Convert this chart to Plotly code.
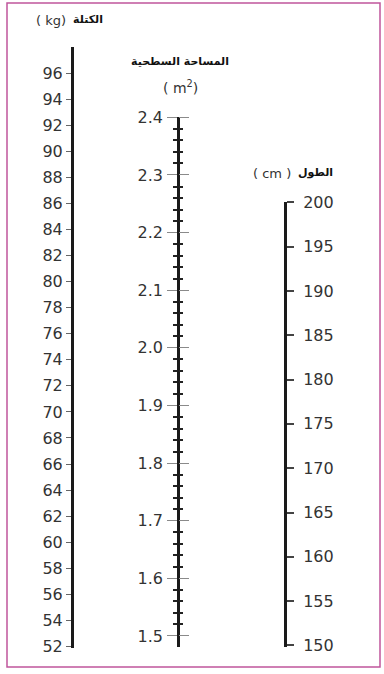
import plotly.graph_objects as go

W, H = 384, 674

# ---- data (scale values / tick labels) ----
mass_ticks = [52, 54, 56, 58, 60, 62, 64, 66, 68, 70, 72, 74, 76, 78, 80, 82, 84, 86, 88, 90, 92, 94, 96]
mass_labels = [str(v) for v in mass_ticks]
mass_range = [51.885, 98.0]

sa_major = [1.5, 1.6, 1.7, 1.8, 1.9, 2.0, 2.1, 2.2, 2.3, 2.4]
sa_labels = ["1.5", "1.6", "1.7", "1.8", "1.9", "2.0", "2.1", "2.2", "2.3", "2.4"]
sa_minor = [round(1.5 + 0.02 * i, 2) for i in range(46) if (i % 5) != 0]
sa_range = [1.4809, 2.4006]

height_ticks = [150, 155, 160, 165, 170, 175, 180, 185, 190, 195, 200]
height_labels = [str(v) for v in height_ticks]
height_range = [149.83, 200.03]

title_mass_unit = "( kg)"
title_mass_ar = "الكتلة"
title_sa_1 = "المساحة السطحية"
title_sa_2 = "( m<sup>2</sup>)"
title_height_unit = "( cm )"
title_height_ar = "الطول"


def py(p):
    """pixel row -> paper fraction"""
    return (H - p) / H


num_font = dict(family="DejaVu Sans, sans-serif", size=16, color="#333")
unit_font = dict(family="DejaVu Sans, sans-serif", size=13, color="#333")
ar_font = dict(family="DejaVu Sans, sans-serif", size=11, color="#111")

fig = go.Figure()
for ya in ["y", "y2", "y3", "y4"]:
    fig.add_trace(go.Scatter(x=[None], y=[None], yaxis=ya, xaxis="x",
                             hoverinfo="skip", showlegend=False))

common = dict(showgrid=False, zeroline=False, fixedrange=True, anchor="free", automargin=False)

fig.update_layout(
    width=W, height=H,
    margin=dict(l=0, r=0, t=0, b=0, pad=0, autoexpand=False),
    paper_bgcolor="white", plot_bgcolor="rgba(0,0,0,0)",
    showlegend=False,
    xaxis=dict(range=[0, 1], domain=[0, 1], visible=False, fixedrange=True, automargin=False),
    yaxis=dict(
        **common, domain=[py(648), py(47)], range=mass_range,
        position=72 / W, side="left",
        showline=True, linewidth=3, linecolor="#1a1a1a",
        ticks="outside", ticklen=5, tickwidth=1.2, tickcolor="#666",
        tickmode="array", tickvals=mass_ticks, ticktext=mass_labels,
        tickfont=num_font, ticklabelstandoff=0,
    ),
    yaxis2=dict(
        **common, domain=[py(647), py(117)], range=sa_range,
        position=178 / W, side="left",
        showline=True, linewidth=2.5, linecolor="#1a1a1a",
        ticks="outside", ticklen=10, tickwidth=1, tickcolor="#8a8a8a",
        tickmode="array", tickvals=sa_major, ticktext=sa_labels,
        tickfont=num_font, ticklabelstandoff=1,
        minor=dict(tickmode="array", tickvals=sa_minor, ticks="outside",
                   ticklen=4, tickwidth=2, tickcolor="#222", showgrid=False),
    ),
    yaxis3=dict(
        **common, overlaying="y2", range=sa_range,
        position=178 / W, side="right",
        showline=False,
        ticks="outside", ticklen=10, tickwidth=1, tickcolor="#8a8a8a",
        tickmode="array", tickvals=sa_major, showticklabels=False,
        minor=dict(tickmode="array", tickvals=sa_minor, ticks="outside",
                   ticklen=4, tickwidth=2, tickcolor="#222", showgrid=False),
    ),
    yaxis4=dict(
        **common, domain=[py(647), py(202)], range=height_range,
        position=285 / W, side="right",
        showline=True, linewidth=3, linecolor="#1a1a1a",
        ticks="outside", ticklen=7, tickwidth=1.5, tickcolor="#444",
        tickmode="array", tickvals=height_ticks, ticktext=height_labels,
        tickfont=num_font, ticklabelstandoff=6,
    ),
    annotations=[
        dict(text=title_mass_unit, x=68 / W, y=py(20), xref="paper", yref="paper",
             showarrow=False, font=unit_font, xanchor="right", yanchor="middle"),
        dict(text="<b>" + title_mass_ar + "</b>", x=71 / W, y=py(19), xref="paper", yref="paper",
             showarrow=False, font=ar_font, xanchor="left", yanchor="middle"),
        dict(text="<b>" + title_sa_1 + "</b>", x=180 / W, y=py(62), xref="paper", yref="paper",
             showarrow=False, font=ar_font, xanchor="center", yanchor="middle"),
        dict(text=title_sa_2, x=180 / W, y=py(87), xref="paper", yref="paper",
             showarrow=False, font=dict(family="DejaVu Sans, sans-serif", size=14, color="#333"),
             xanchor="center", yanchor="middle"),
        dict(text=title_height_unit, x=293 / W, y=py(173), xref="paper", yref="paper",
             showarrow=False, font=unit_font, xanchor="right", yanchor="middle"),
        dict(text="<b>" + title_height_ar + "</b>", x=296 / W, y=py(172), xref="paper", yref="paper",
             showarrow=False, font=ar_font, xanchor="left", yanchor="middle"),
    ],
    shapes=[
        dict(type="rect", xref="paper", yref="paper",
             x0=7 / W, x1=380 / W, y0=py(667), y1=py(3),
             line=dict(color="#c0569c", width=1.5), fillcolor="rgba(0,0,0,0)"),
    ],
)

fig.write_html(
    "out.html",
    config={"displayModeBar": False, "responsive": False},
    post_script=(
        "var gd=document.getElementById('{plot_id}');"
        "gd.style.position='absolute';gd.style.top='0px';gd.style.left='0px';"
        "document.body.style.margin='0';document.body.style.padding='0';"
        "document.documentElement.style.overflow='hidden';"
    ),
)
